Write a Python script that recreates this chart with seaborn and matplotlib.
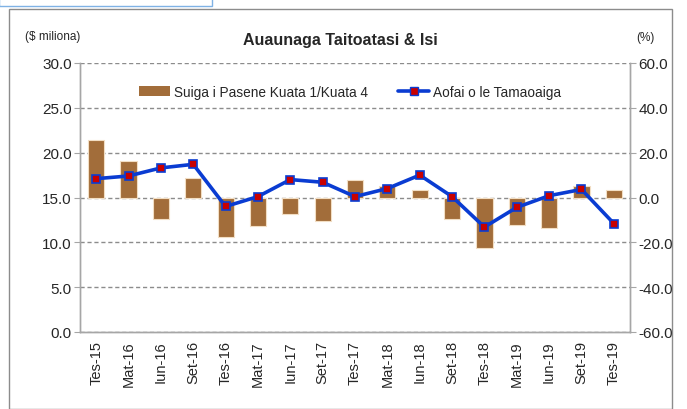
import numpy as np
import pandas as pd
import matplotlib
matplotlib.use('Agg')
import matplotlib.pyplot as plt
from matplotlib.patches import Rectangle
from matplotlib.lines import Line2D
from matplotlib.ticker import FixedLocator
import seaborn as sns

sns.set_style('white')
plt.rcParams['font.family'] = ['Liberation Sans', 'DejaVu Sans']

# data
quarters = ['Tes-15', 'Mat-16', 'Iun-16', 'Set-16', 'Tes-16', 'Mat-17', 'Iun-17', 'Set-17',
            'Tes-17', 'Mat-18', 'Iun-18', 'Set-18', 'Tes-18', 'Mat-19', 'Iun-19', 'Set-19', 'Tes-19']
value = [17.1, 17.4, 18.3, 18.7, 14.0, 15.1, 17.0, 16.7,
         15.1, 16.0, 17.5, 15.1, 11.7, 13.9, 15.2, 15.9, 12.1]   # $ miliona
pct_change = [25.5, 16.1, -9.8, 8.7, -17.8, -12.7, -7.3, -10.7,
              7.6, 5.0, 3.4, -9.8, -22.5, -12.3, -13.5, 5.0, 3.4]  # %

df = pd.DataFrame({'quarter': quarters, 'value': value, 'pct': pct_change})
df['pos'] = np.arange(len(df))

brown = '#A26D3A'
blue = '#0A3CD2'
red = '#C80000'
grid_col = '#8C8C8C'
spine_col = '#A6A6A6'

fig = plt.figure(figsize=(6.87, 4.10), dpi=100)
ax = fig.add_axes([80/687, 1-333/410, 550/687, 269/410])
ax2 = ax.twinx()

# bars on the right (%) axis
sns.barplot(data=df, x='quarter', y='pct', ax=ax2, color=brown, saturation=1,
            width=0.5, edgecolor='#F2DEC4', linewidth=0.8)
ax2.set_ylim(-60, 60)
ax2.set_yticks(np.arange(-60, 61, 20))
ax2.set_yticklabels(['%.1f' % t for t in np.arange(-60, 61, 20)])
ax2.set_ylabel('')
ax2.set_xlabel('')
ax2.yaxis.grid(True, linestyle=(0, (3, 2)), color=grid_col, linewidth=1)
ax2.set_axisbelow(True)

# line on the left ($ miliona) axis
sns.lineplot(data=df, x='pos', y='value', ax=ax, color=blue, linewidth=2.6,
             marker='s', markersize=6, markerfacecolor=red, markeredgecolor=blue,
             markeredgewidth=1.2)
ax.set_ylim(0, 30)
ax.set_yticks(np.arange(0, 31, 5))
ax.set_yticklabels(['%.1f' % t for t in np.arange(0, 31, 5)])
ax.set_xlim(-0.5, len(df) - 0.5)
ax.set_xticks(df['pos'])
ax.set_xticklabels(quarters, rotation=90, fontsize=10.5)
ax.xaxis.set_minor_locator(FixedLocator(np.arange(-0.5, len(df), 1)))
ax.tick_params(axis='x', which='major', length=0, pad=6)
ax.tick_params(axis='x', which='minor', length=5, color=spine_col, width=0.8)
ax.set_xlabel('')
ax.set_ylabel('')
ax.set_zorder(ax2.get_zorder() + 1)
ax.patch.set_visible(False)

for a in (ax, ax2):
    a.tick_params(axis='y', labelsize=11, length=4, color=spine_col, width=0.8)
    a.spines['top'].set_visible(False)
    for s in ('left', 'right', 'bottom'):
        a.spines[s].set_color(spine_col)
        a.spines[s].set_linewidth(1)
ax.tick_params(axis='y', left=True, pad=2)
ax2.tick_params(axis='y', right=True, pad=2)

# titles and units
fig.text(340/687, 1-41/410, 'Auaunaga Taitoatasi & Isi', ha='center', va='center',
         fontsize=11.5, fontweight='bold')
fig.text(25/687, 1-37/410, '($ miliona)', ha='left', va='center', fontsize=8.5)
fig.text(645/687, 1-38/410, '(%)', ha='center', va='center', fontsize=8.5)

# legend
handles = [Rectangle((0, 0), 1, 1, facecolor=brown, edgecolor='none'),
           Line2D([], [], color=blue, linewidth=2.6, marker='s', markersize=6,
                  markerfacecolor=red, markeredgecolor=blue)]
fig.legend(handles, ['Suiga i Pasene Kuata 1/Kuata 4', 'Aofai o le Tamaoaiga'],
           loc='center', bbox_to_anchor=(350/687, 1-93/410), ncol=2, frameon=False,
           fontsize=9.8, handlelength=2.3, columnspacing=2.2, handletextpad=0.3)

# chart border and a bit of the page box above
fig.patches.append(Rectangle((9/687, 0), 663/687, 1-10/410, transform=fig.transFigure,
                             fill=False, edgecolor='#8C8C8C', linewidth=1))
fig.patches.append(Rectangle((-1/687, 1-7/410), 213/687, 8/410, transform=fig.transFigure,
                             fill=False, edgecolor='#7FB2E5', linewidth=1))

fig.savefig('out.png', dpi=100)
